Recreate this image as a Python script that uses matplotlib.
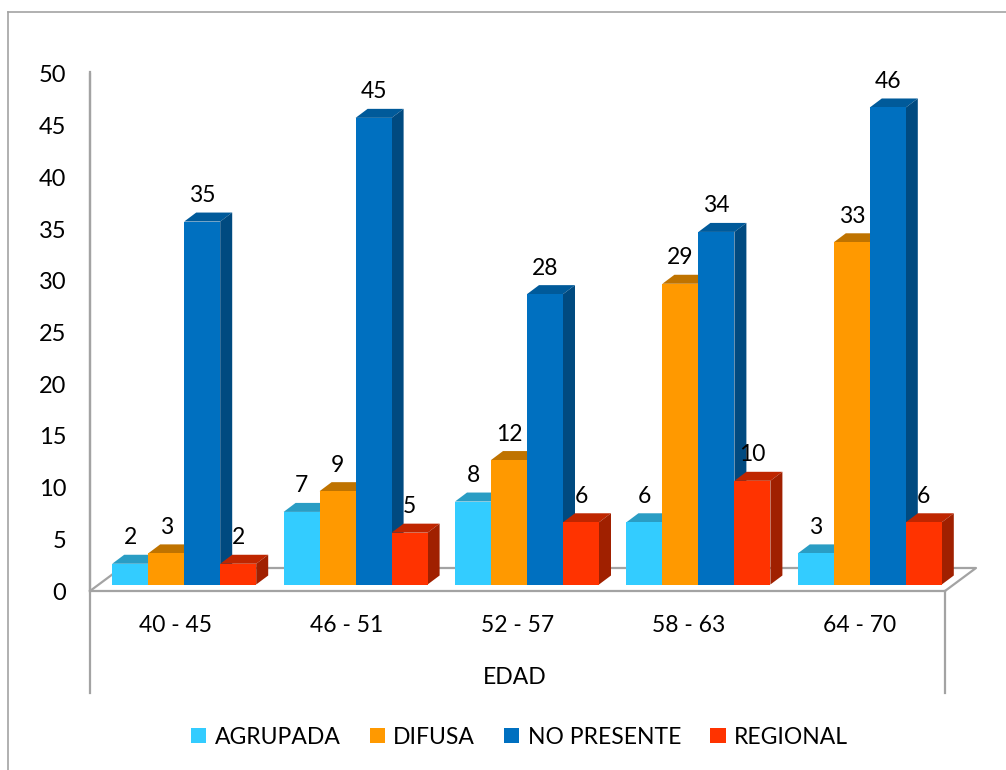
#!/usr/bin/env python3
"""Clustered pseudo-3D bars: distribution pattern by age group."""
import matplotlib
matplotlib.use('Agg')
import matplotlib.pyplot as plt
from matplotlib.lines import Line2D
from matplotlib.patches import Patch, Polygon

plt.rcParams['font.family'] = ['Lato', 'DejaVu Sans']

W, H = 1006, 770

edades = ['40 - 45', '46 - 51', '52 - 57', '58 - 63', '64 - 70']
agrupada = [2, 7, 8, 6, 3]
difusa = [3, 9, 12, 29, 33]
no_presente = [35, 45, 28, 34, 46]
regional = [2, 5, 6, 10, 6]
y_ticks = [0, 5, 10, 15, 20, 25, 30, 35, 40, 45, 50]

series = [
    ('AGRUPADA', agrupada, '#33CCFF', '#2A9DC4', '#1F7FA0'),
    ('DIFUSA', difusa, '#FF9900', '#BF7300', '#A86500'),
    ('NO PRESENTE', no_presente, '#0070C0', '#005A9A', '#004A80'),
    ('REGIONAL', regional, '#FF3300', '#BF2600', '#A02000'),
]


def axes_px(left, top, right, bottom):
    return [left / W, 1 - bottom / H, (right - left) / W, (bottom - top) / H]


def frame_line(xs, ys, lw=1.6):
    fig.add_artist(Line2D([x / W for x in xs], [1 - y / H for y in ys],
                          transform=fig.transFigure, color='#A3A3A3', lw=lw,
                          zorder=-1))


fig = plt.figure(figsize=(W / 100, H / 100), dpi=100)

# Front plane: carries the axis lines and the labels
ax = fig.add_axes(axes_px(90, 74, 945, 591))
ax.patch.set_visible(False)
ax.set_xlim(0, 5)
ax.set_ylim(0, 50)
ax.set_xticks([i + 0.5 for i in range(len(edades))], edades)
ax.set_yticks(y_ticks)
ax.tick_params(axis='x', length=0, pad=17, labelsize=16.5)
ax.tick_params(axis='y', length=0, pad=17, labelsize=17)
ax.set_xlabel('EDAD', fontsize=16.5)
ax.xaxis.set_label_coords(0.497, -0.147)
for side in ['top', 'right']:
    ax.spines[side].set_visible(False)
for side in ['left', 'bottom']:
    ax.spines[side].set_color('#A3A3A3')
    ax.spines[side].set_linewidth(1.6)

# Outer chart border, floor and the axis extensions
frame_line([8, 8], [770, 12], lw=1.2)
frame_line([8, 1006], [12, 12], lw=1.2)
frame_line([90, 90], [72, 693])
frame_line([945, 945], [591, 693])
frame_line([90, 121, 976, 945], [591, 568, 568, 591])

# Bars sit on a plane shifted back from the front axis
bars = fig.add_axes(axes_px(98.5, 66, 955.5, 584.5))
bars.set_xlim(0, 5)
bars.set_ylim(0, 50)
bars.axis('off')

width = 36 / 171.4
depth_x = 12 / 171.4
depth_y = 9 / 10.37

for i in range(len(edades)):
    for j, (name, values, front, top, side) in enumerate(series):
        x0 = i + 0.5 + (j - 2) * width
        x1 = x0 + width
        v = values[i]
        z = 3 + i + j * 0.1
        bars.bar(x0, v, width=width, align='edge', color=front, zorder=z + 0.02)
        bars.add_patch(Polygon(
            [(x0, v), (x1, v), (x1 + depth_x, v + depth_y), (x0 + depth_x, v + depth_y)],
            closed=True, fc=top, ec='none', clip_on=False, zorder=z))
        bars.add_patch(Polygon(
            [(x1, 0), (x1 + depth_x, depth_y), (x1 + depth_x, v + depth_y), (x1, v)],
            closed=True, fc=side, ec='none', clip_on=False, zorder=z))
        bars.annotate(str(v), xy=((x0 + x1) / 2, v), xytext=(0, 18.7),
                      textcoords='offset points', ha='center', va='center',
                      fontsize=16.5, color='black', zorder=20, annotation_clip=False)

handles = [Patch(facecolor=s[2], edgecolor='none') for s in series]
fig.legend(handles, [s[0] for s in series], ncol=4, frameon=False, fontsize=16.5,
           loc='center', bbox_to_anchor=(519.5 / W, 1 - 737 / H),
           handlelength=0.66, handleheight=0.66, handletextpad=0.36,
           columnspacing=1.28, borderpad=0)

fig.savefig('out.png', dpi=100)
plt.close(fig)
